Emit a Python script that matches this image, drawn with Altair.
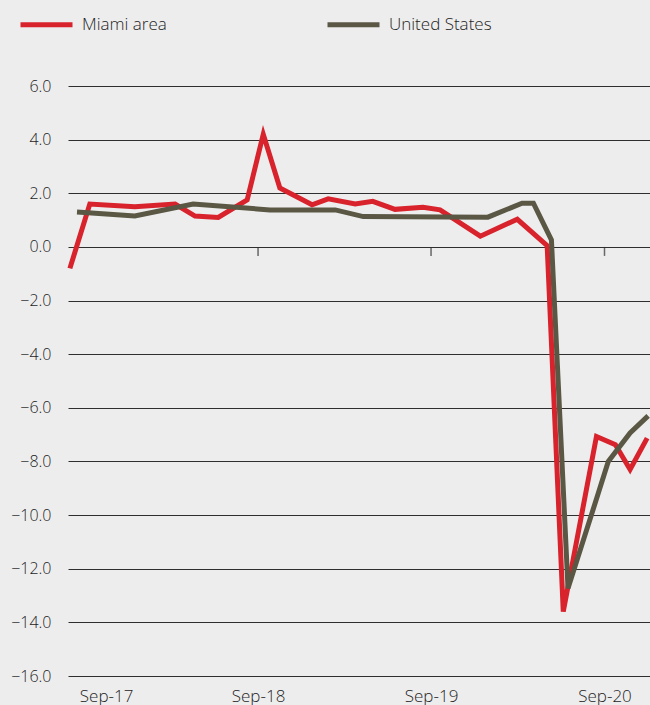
import altair as alt
import pandas as pd

# Miami area series (date, value)
miami_dates = ["2017-07-31", "2017-09-11", "2017-12-15", "2018-03-10", "2018-04-21",
               "2018-06-09", "2018-08-09", "2018-09-12", "2018-10-17", "2018-12-24",
               "2019-01-27", "2019-03-25", "2019-05-01", "2019-06-17", "2019-08-15",
               "2019-09-20", "2019-12-14", "2020-03-01", "2020-05-03", "2020-06-06",
               "2020-08-15", "2020-09-24", "2020-10-25", "2020-11-30"]
miami_values = [-0.8, 1.6, 1.5, 1.6, 1.15,
                1.1, 1.75, 4.2, 2.2, 1.57,
                1.79, 1.6, 1.7, 1.4, 1.48,
                1.38, 0.4, 1.03, 0.05, -13.6,
                -7.07, -7.38, -8.3, -7.13]

# United States series (date, value)
us_dates = ["2017-08-15", "2017-12-15", "2018-04-17", "2018-09-26", "2019-02-11",
            "2019-04-11", "2019-12-30", "2020-03-11", "2020-04-04", "2020-05-12",
            "2020-06-16", "2020-08-19", "2020-09-09", "2020-10-25", "2020-12-02"]
us_values = [1.3, 1.15, 1.6, 1.38, 1.38,
             1.13, 1.11, 1.63, 1.63, 0.26,
             -12.73, -9.18, -8.0, -6.94, -6.3]

series_names = ["Miami area", "United States"]
series_colors = ["#d8222c", "#5a5744"]

tick_dates = ["2018-09-01", "2019-09-01", "2020-09-01"]
label_dates = [alt.DateTime(year=y, month=9, date=1, utc=True) for y in (2017, 2018, 2019, 2020)]
y_ticks = [6, 4, 2, 0, -2, -4, -6, -8, -10, -12, -14, -16]

df = pd.concat([
    pd.DataFrame({"date": miami_dates, "value": miami_values, "series": series_names[0]}),
    pd.DataFrame({"date": us_dates, "value": us_values, "series": series_names[1]}),
])
ticks_df = pd.DataFrame({"date": tick_dates, "value": [0] * len(tick_dates)})

FONT = "Open Sans"
WEIGHT = 300
TEXT = "#1e1e1e"

x_scale = alt.Scale(type="utc",
                    domain=[alt.DateTime(year=2017, month=7, date=27, utc=True),
                            alt.DateTime(year=2020, month=12, date=6, utc=True)])
y_scale = alt.Scale(domain=[-16, 6], nice=False)

lines = alt.Chart(df).mark_line(strokeWidth=5, strokeJoin="miter", strokeCap="butt").encode(
    x=alt.X("date:T", scale=x_scale, title=None,
            axis=alt.Axis(values=label_dates, format="%b-%y", grid=False, ticks=False,
                          domain=False, labelFont=FONT, labelFontSize=17,
                          labelFontWeight=WEIGHT, labelColor=TEXT, labelPadding=12,
                          labelOffset={"condition": {"test": "utcyear(datum.value) == 2017",
                                                     "value": 21},
                                       "value": 0})),
    y=alt.Y("value:Q", scale=y_scale, title=None,
            axis=alt.Axis(values=y_ticks, format=".1f", grid=True, gridColor="#2e2e2e",
                          gridWidth=1, ticks=False, domain=False, labelFont=FONT,
                          labelFontSize=16, labelFontWeight=WEIGHT, labelColor=TEXT,
                          labelPadding=17)),
    color=alt.Color("series:N", scale=alt.Scale(domain=series_names, range=series_colors),
                    legend=alt.Legend(title=None, orient="none", legendX=-50, legendY=-90,
                                      direction="horizontal", symbolType="stroke",
                                      symbolSize=2704, symbolStrokeWidth=5,
                                      labelFont=FONT, labelFontSize=17,
                                      labelFontWeight=WEIGHT, labelColor=TEXT,
                                      labelOffset=7, columnPadding=132, gridAlign="all",
                                      padding=0)),
    order=alt.Order("date:T"),
)

zero_ticks = alt.Chart(ticks_df).mark_tick(orient="vertical", size=9, thickness=1.5,
                                           color="#2e2e2e", yOffset=4.5).encode(
    x=alt.X("date:T", scale=x_scale),
    y=alt.Y("value:Q", scale=y_scale),
)

chart = alt.layer(zero_ticks, lines).properties(
    width=582, height=590,
    background="#ededed",
    padding={"left": 68, "top": 86, "right": 0, "bottom": 29},
    autosize=alt.AutoSizeParams(type="none"),
).configure_view(stroke=None)

chart.save("out.html", embed_options={"renderer": "svg", "actions": False})
